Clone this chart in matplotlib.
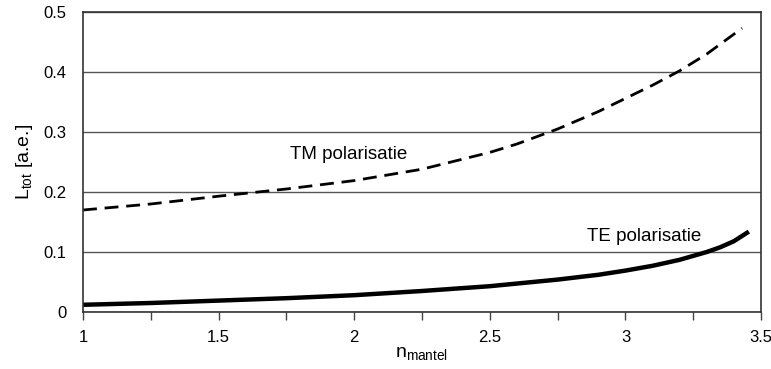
import numpy as np
import matplotlib.pyplot as plt
from matplotlib.ticker import MultipleLocator, NullFormatter

plt.rcParams['font.family'] = ['Liberation Sans', 'DejaVu Sans']
plt.rcParams['mathtext.fontset'] = 'custom'
plt.rcParams['mathtext.rm'] = 'Liberation Sans'
plt.rcParams['mathtext.it'] = 'Liberation Sans'

# data
n_te = [1.0, 1.25, 1.5, 1.75, 2.0, 2.25, 2.5, 2.75, 2.9, 3.0, 3.1, 3.2, 3.3, 3.35, 3.4, 3.455]
l_te = [0.012, 0.015, 0.019, 0.023, 0.028, 0.035, 0.043, 0.054, 0.062, 0.069, 0.077, 0.087, 0.100, 0.108, 0.118, 0.134]
n_tm = [1.0, 1.25, 1.5, 1.75, 2.0, 2.25, 2.5, 2.6, 2.75, 2.9, 3.0, 3.1, 3.2, 3.3, 3.43]
l_tm = [0.170, 0.180, 0.193, 0.205, 0.219, 0.238, 0.266, 0.280, 0.305, 0.334, 0.356, 0.378, 0.402, 0.430, 0.473]

fig = plt.figure(figsize=(7.71, 3.69), dpi=100)
ax = fig.add_axes([0.1077, 0.1545, 0.8794, 0.813])

ax.yaxis.grid(True, color='#555555', lw=1.0)
ax.set_axisbelow(True)

ax.plot(n_tm, l_tm, color='black', lw=2.0, ls=(0, (5, 2.8)))
ax.plot(n_te, l_te, color='black', lw=3.2, solid_capstyle='butt')

ax.text(1.98, 0.263, 'TM polarisatie', fontsize=13.5, ha='center', va='center')
ax.text(3.07, 0.125, 'TE polarisatie', fontsize=13.5, ha='center', va='center')

ax.set_xlim(1, 3.5)
ax.set_ylim(0, 0.5)
ax.xaxis.set_major_locator(MultipleLocator(0.5))
ax.xaxis.set_minor_locator(MultipleLocator(0.25))
ax.xaxis.set_minor_formatter(NullFormatter())
ax.yaxis.set_major_locator(MultipleLocator(0.1))
ax.xaxis.set_major_formatter(plt.FuncFormatter(lambda v, p: '%g' % v))
ax.yaxis.set_major_formatter(plt.FuncFormatter(lambda v, p: '%g' % v))

ax.tick_params(axis='x', which='both', direction='out', length=6, width=1,
               color='#444444', labelsize=12, pad=7)
ax.tick_params(axis='y', length=0, labelsize=12, pad=12)

for s in ax.spines.values():
    s.set_color('#333333')
    s.set_linewidth(1.2)

ax.set_xlabel(r'n$_{\mathrm{mantel}}$', fontsize=14, labelpad=0)
ax.set_ylabel(r'L$_{\mathrm{tot}}$ [a.e.]', fontsize=14, labelpad=6)

fig.savefig('out.png', dpi=100)
